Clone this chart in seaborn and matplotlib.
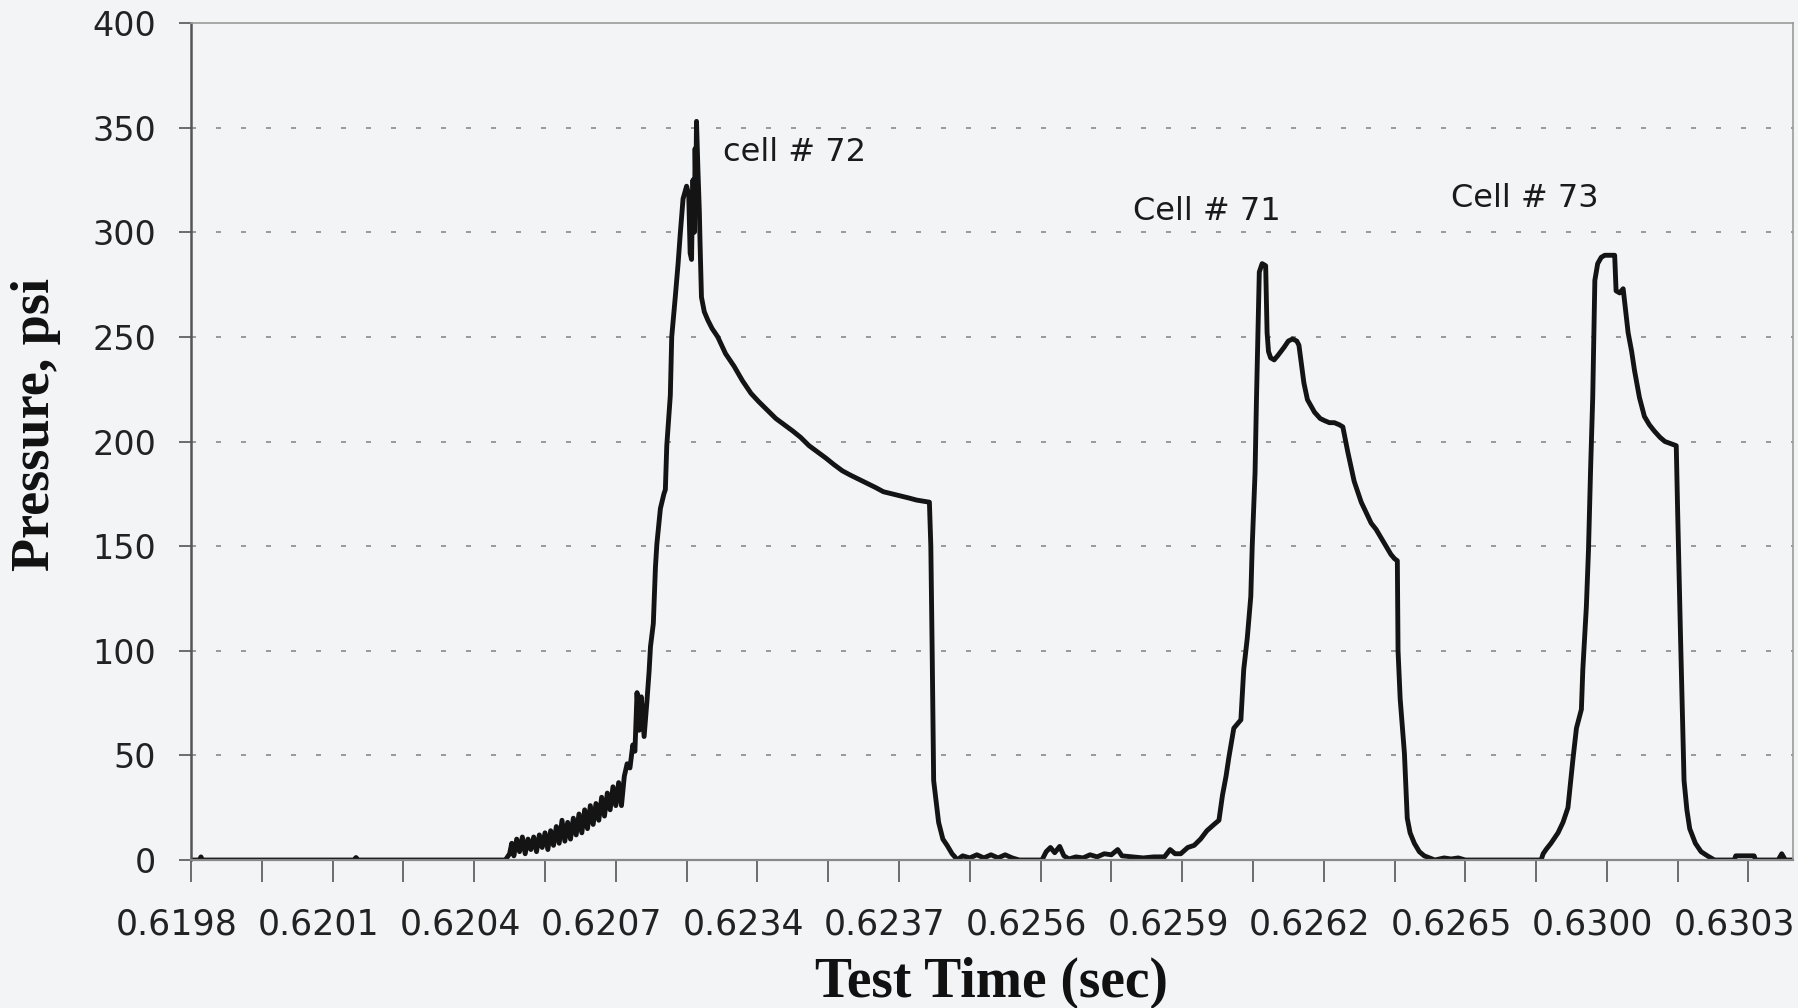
import numpy as np
import pandas as pd
import matplotlib
matplotlib.use("Agg")
import matplotlib.pyplot as plt
import matplotlib.transforms as mtransforms
import seaborn as sns

# Valores (posição da amostra em unidades de marca do eixo x, pressão em psi)
# trecho inicial em zero
pos_base = [0.00, 0.12, 0.14, 0.16, 2.30, 2.33, 2.36, 4.40]
psi_base = [0, 0, 1.5, 0, 0, 1.2, 0, 0]

# célula 72 (subida ruidosa, pico, decaimento, queda)
pos_c72 = [4.44, 4.50, 4.53, 4.56, 4.60, 4.64, 4.68, 4.72, 4.76, 4.80, 4.84, 4.88,
           4.92, 4.96, 5.00, 5.04, 5.08, 5.12, 5.16, 5.20, 5.24, 5.28, 5.32, 5.36,
           5.40, 5.44, 5.48, 5.52, 5.56, 5.60, 5.64, 5.68, 5.72, 5.76, 5.80, 5.84,
           5.88, 5.92, 5.96, 6.00, 6.04, 6.08, 6.12, 6.16, 6.20, 6.24, 6.27, 6.30,
           6.33, 6.36, 6.40, 6.44, 6.47, 6.49, 6.53, 6.56, 6.58, 6.63, 6.68, 6.70,
           6.72, 6.77, 6.79, 6.84, 6.88, 6.91, 6.95, 7.00, 7.03, 7.05, 7.07, 7.08,
           7.09, 7.11, 7.12, 7.13, 7.14, 7.16, 7.18, 7.19, 7.21, 7.25, 7.30, 7.36,
           7.44, 7.55, 7.67, 7.79, 7.91, 8.02, 8.14, 8.26, 8.38, 8.50, 8.61, 8.73,
           8.85, 8.97, 9.08, 9.20, 9.31, 9.43, 9.55, 9.67, 9.78, 9.90, 10.02, 10.14,
           10.25, 10.43, 10.45, 10.47, 10.49, 10.56, 10.62, 10.68, 10.75, 10.79, 10.82]
psi_c72 = [0, 3, 8, 2, 10, 4, 11, 3, 10, 5, 11, 4,
           12, 6, 13, 5, 14, 7, 16, 8, 19, 9, 18, 10,
           20, 12, 22, 13, 24, 15, 26, 17, 27, 19, 30, 21,
           32, 24, 35, 26, 37, 26, 40, 46, 44, 55, 52, 80,
           62, 78, 59, 76, 90, 102, 113, 140, 151, 168, 175, 177,
           198, 222, 250, 269, 285, 299, 316, 322, 318, 290, 287, 310,
           325, 300, 340, 320, 353, 330, 310, 295, 269, 262, 258, 254,
           250, 242, 236, 229, 223, 219, 215, 211, 208, 205, 202, 198,
           195, 192, 189, 186, 184, 182, 180, 178, 176, 175, 174, 173,
           172, 171, 150, 97, 38, 18, 10, 7, 3, 1.5, 0]

# intervalo + célula 71
pos_c71 = [10.90, 11.00, 11.10, 11.20, 11.30, 11.40, 11.50, 11.60, 11.70, 12.02,
           12.08, 12.14, 12.20, 12.27, 12.33, 12.40, 12.50, 12.60, 12.70, 12.80,
           12.90, 13.00, 13.09, 13.15, 13.30, 13.45, 13.60, 13.75, 13.83, 13.90,
           13.98, 14.08, 14.17, 14.26, 14.35, 14.45, 14.52, 14.57, 14.62, 14.66,
           14.73, 14.83, 14.87, 14.92, 14.97, 14.99, 15.03, 15.05, 15.07, 15.09,
           15.13, 15.18, 15.20, 15.22, 15.25, 15.30, 15.35, 15.44, 15.50, 15.56,
           15.62, 15.65, 15.72, 15.77, 15.87, 15.95, 16.01, 16.08, 16.15, 16.22,
           16.27, 16.34, 16.43, 16.53, 16.60, 16.67, 16.74, 16.81, 16.88, 16.95,
           17.00, 17.04, 17.05, 17.08, 17.14, 17.18, 17.22, 17.28, 17.35, 17.42,
           17.57, 17.70, 17.80, 17.90, 18.00, 19.05]
psi_c71 = [2, 1, 2.5, 1, 2.5, 1, 2.5, 1, 0, 0,
           4, 6, 3.5, 6.5, 2, 0.5, 1.5, 1, 2.5, 1.5,
           3, 2.5, 5, 2, 1.5, 1, 1.5, 1.5, 5, 3,
           3, 6, 7, 10, 14, 17, 19, 31, 40, 49,
           63, 67, 91, 106, 126, 150, 185, 220, 250, 281,
           285, 284, 252, 243, 240, 239, 241, 245, 248, 249,
           248, 246, 228, 220, 214, 211, 210, 209, 209, 208,
           207, 195, 181, 171, 166, 161, 158, 154, 150, 146,
           144, 143, 100, 77, 51, 20, 13, 8, 4, 2,
           0, 1, 0.5, 1, 0, 0]

# célula 73 + final
pos_c73 = [19.07, 19.10, 19.14, 19.21, 19.31, 19.38, 19.45, 19.52, 19.57, 19.64,
           19.66, 19.71, 19.74, 19.77, 19.80, 19.83, 19.87, 19.92, 19.97, 20.05,
           20.11, 20.13, 20.18, 20.23, 20.30, 20.35, 20.39, 20.46, 20.53, 20.60,
           20.67, 20.75, 20.82, 20.90, 20.98, 21.00, 21.04, 21.09, 21.13, 21.17,
           21.25, 21.33, 21.42, 21.52, 21.80, 21.82, 21.95, 22.08, 22.10, 22.42,
           22.47, 22.52, 22.63]
psi_c73 = [0, 3, 5, 8, 13, 18, 25, 48, 63, 72,
           91, 121, 148, 187, 221, 277, 285, 288, 289, 289,
           289, 272, 271, 273, 252, 243, 234, 221, 212, 208,
           205, 202, 200, 199, 198, 166, 107, 38, 24, 15,
           8, 4, 2, 0, 0, 2, 2, 2, 0, 0,
           3, 0, 0]

tick_labels = ["0.6198", "0.6201", "0.6204", "0.6207", "0.6234", "0.6237",
               "0.6256", "0.6259", "0.6262", "0.6265", "0.6300", "0.6303"]

annot_text = ["cell # 72", "Cell # 71", "Cell # 73"]
annot_pos = [7.51, 13.31, 17.80]
annot_psi = [338, 310, 316]

df = pd.DataFrame({
    "pos": pos_base + pos_c72 + pos_c71 + pos_c73,
    "psi": psi_base + psi_c72 + psi_c71 + psi_c73,
})

bg = "#f3f4f6"
sns.set_theme(style="white")
plt.rcParams["font.family"] = ["DejaVu Sans"]

fig = plt.figure(figsize=(17.99, 10.08), dpi=100, facecolor=bg)
ax = fig.add_axes([0.1062, 0.1468, 0.8905, 0.8304])
ax.set_facecolor(bg)

sns.lineplot(data=df, x="pos", y="psi", sort=False, estimator=None,
             color="#141414", linewidth=3.5, ax=ax)

ax.set_xlim(0, 22.63)
ax.set_ylim(0, 400)

# eixo x: marcas em cada unidade, rótulos a cada duas
ax.set_xticks(np.arange(0, 23, 2))
ax.set_xticklabels(tick_labels, fontsize=25, color="#222222")
ax.set_xticks(np.arange(1, 23, 2), minor=True)
ax.tick_params(axis="x", which="both", direction="out", length=16, width=1.2,
               color="#555555", pad=18, bottom=True)
# rótulos levemente deslocados para a esquerda, como no original
shift = mtransforms.ScaledTranslation(-0.14, 0, fig.dpi_scale_trans)
for lbl in ax.get_xticklabels():
    lbl.set_transform(lbl.get_transform() + shift)

ax.set_yticks(np.arange(0, 401, 50))
ax.set_yticklabels([str(v) for v in range(0, 401, 50)], fontsize=24, color="#222222")
ax.tick_params(axis="y", direction="out", length=9, width=1.2, color="#555555",
               pad=16, left=True)

for v in range(50, 400, 50):
    ax.axhline(v, color="#8a8a8a", linewidth=1.2, linestyle=(0, (3, 12)), zorder=0)

for side in ["top", "right"]:
    ax.spines[side].set_color("#9a9a9a")
    ax.spines[side].set_linewidth(1.2)
ax.spines["left"].set_color("#555555")
ax.spines["left"].set_linewidth(1.8)
ax.spines["bottom"].set_color("#888888")
ax.spines["bottom"].set_linewidth(1.6)

for t, x, y in zip(annot_text, annot_pos, annot_psi):
    ax.text(x, y, t, fontsize=23, ha="left", va="center", color="#1a1a1a")

ax.set_xlabel("")
ax.set_ylabel("")
fig.text(0.0200, 0.579, "Pressure, psi", rotation=90, ha="center", va="center",
         fontsize=39, fontweight="bold", family=["Liberation Serif"], color="#111111")
fig.text(0.551, 0.025, "Test Time (sec)", ha="center", va="center",
         fontsize=40, fontweight="bold", family=["Liberation Serif"], color="#111111")

fig.savefig("out.png", dpi=100, facecolor=bg)
